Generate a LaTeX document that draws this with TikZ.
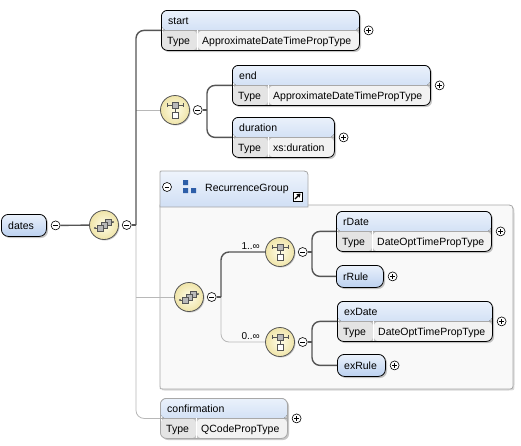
\documentclass[tikz,border=0pt]{standalone}
\usepackage{fontspec}
\setmainfont{Liberation Sans}
\usetikzlibrary{positioning,shadows,arrows.meta}

\definecolor{hdtop}{HTML}{EAF1FB}
\definecolor{hdbot}{HTML}{BCD1F0}
\definecolor{typecell}{HTML}{E4E4E4}
\definecolor{valcell}{HTML}{F2F2F2}
\definecolor{compin}{HTML}{FFFDE9}
\definecolor{compout}{HTML}{EFE4A8}
\definecolor{linedark}{HTML}{555555}
\definecolor{lineopt}{HTML}{B8B8B8}
\definecolor{groupbg}{HTML}{F9F9F9}
\definecolor{groupline}{HTML}{A8A8A8}
\definecolor{iconblue}{HTML}{2D5EA8}

\tikzset{
  lbl/.style={inner sep=0pt,font=\fontsize{10.5}{12}\selectfont},
  card/.style={inner sep=1pt,font=\fontsize{10}{12}\selectfont},
  mand/.style={draw=linedark,line width=1.4pt},
  opt/.style={draw=lineopt,line width=0.8pt},
  boxshadow/.style={drop shadow={shadow xshift=1.6pt,shadow yshift=-1.6pt,fill=black,opacity=0.22}},
  typedbox/.style={draw=black,line width=0.8pt,rounded corners=6pt,minimum height=40pt,
    inner sep=0pt,anchor=north west,boxshadow,
    path picture={
      \fill[top color=hdtop,bottom color=hdbot] (path picture bounding box.north west)
        rectangle ([yshift=20pt]path picture bounding box.south east);
      \fill[typecell] ([yshift=20pt]path picture bounding box.south west)
        rectangle ([xshift=36pt]path picture bounding box.south west);
      \fill[valcell] ([xshift=36pt,yshift=20pt]path picture bounding box.south west)
        rectangle (path picture bounding box.south east);
      \draw[groupline,line width=0.6pt] ([yshift=20pt]path picture bounding box.south west)
        -- ([yshift=20pt]path picture bounding box.south east);
      \draw[white,line width=0.8pt] ([xshift=36pt,yshift=20pt]path picture bounding box.south west)
        -- ([xshift=36pt]path picture bounding box.south west);
    }},
  simplebox/.style={draw=black,line width=0.8pt,rounded corners=7pt,minimum height=22pt,
    inner sep=0pt,anchor=north west,top color=hdtop,bottom color=hdbot,boxshadow},
  compositor/.style={circle,draw=linedark,line width=0.8pt,minimum size=29pt,inner sep=0pt,
    inner color=compin,outer color=compout,
    drop shadow={shadow xshift=1pt,shadow yshift=-1pt,fill=black,opacity=0.2}},
  toggle/.style={circle,draw=black,fill=white,line width=0.6pt,minimum size=9pt,inner sep=0pt},
  togminus/.style={toggle,path picture={
      \draw[line width=0.7pt] ([xshift=-2.3pt]path picture bounding box.center)
        -- ([xshift=2.3pt]path picture bounding box.center);}},
  togplus/.style={toggle,path picture={
      \draw[line width=0.7pt] ([xshift=-2.3pt]path picture bounding box.center)
        -- ([xshift=2.3pt]path picture bounding box.center);
      \draw[line width=0.7pt] ([yshift=-2.3pt]path picture bounding box.center)
        -- ([yshift=2.3pt]path picture bounding box.center);}},
  groupbox/.style={draw=groupline,line width=0.8pt,fill=groupbg,
    drop shadow={shadow xshift=1.5pt,shadow yshift=-1.5pt,fill=black,opacity=0.15}},
  grouptab/.style={draw=groupline,line width=0.8pt,top color=hdtop!80!white,bottom color=hdbot!70!white},
  iconline/.style={draw=linedark,line width=0.6pt}
}

% element with a Type row
\newcommand\typedelem[7][]{%
  \node[typedbox,minimum width=#5pt,#1] (#2) at (#3,#4) {};
  \node[lbl,anchor=base west] (#2-name) at ([xshift=7pt,yshift=-14pt]#2.north west) {#6};
  \node[lbl,anchor=base west] (#2-tlab) at ([xshift=6pt,yshift=6pt]#2.south west) {Type};
  \node[lbl,anchor=base west] (#2-type) at ([xshift=41pt,yshift=6pt]#2.south west) {#7};
}
% element without type
\newcommand\simpleelem[5]{%
  \node[simplebox,minimum width=#4pt] (#1) at (#2,#3) {};
  \node[lbl,anchor=base west] (#1-name) at ([xshift=7pt,yshift=-15pt]#1.north west) {#5};
}
% sequence icon
\newcommand\seqicon[1]{%
  \begin{scope}[shift={(#1.center)}]
    \draw[iconline] (-9,3) -- (-5,3) (5,-3) -- (9,-3);
    \fill[linedark] (-9,3) circle (1.1pt) (9,-3) circle (1.1pt);
    \foreach \d in {4,0,-4}
      \draw[iconline,fill=gray!55] ({\d-3},{-0.75*\d-3}) rectangle ({\d+3},{-0.75*\d+3});
  \end{scope}}
% choice icon
\newcommand\choiceicon[1]{%
  \begin{scope}[shift={(#1.center)}]
    \draw[iconline] (-8,-5) -- (8,-5) (0,-2) -- (0,2);
    \draw[iconline] (-8,-7) -- (-8,-3) (8,-7) -- (8,-3);
    \draw[iconline,fill=gray!55] (-3,-8) rectangle (3,-2);
    \draw[iconline,fill=white] (-3,2) rectangle (3,8);
  \end{scope}}

\begin{document}
\begin{tikzpicture}[x=1pt,y=-1pt]
  \useasboundingbox[fill=white] (0,0) rectangle (521,445);

  % RecurrenceGroup
  \draw[groupbox] (160,205) -- (505,205) .. controls (513,205) .. (513,213) -- (513,383)
    .. controls (513,389) .. (507,389) -- (163,389) .. controls (160,389) .. (160,386) -- cycle;
  \draw[grouptab] (160,207) -- (160,173) .. controls (160,171) .. (162,171) -- (300,171)
    .. controls (308,171) .. (308,179) -- (308,207) -- cycle;
  \node[togminus] (grp-m) at (167,187) {};
  \fill[iconblue] (183,180) rectangle (188,185) (183,188) rectangle (188,193) (191,188) rectangle (196,193);
  \node[lbl,anchor=base west] (grp-name) at (205,191) {RecurrenceGroup};
  \draw[fill=white,line width=0.8pt] (293,192) rectangle (302,201);
  \draw[line width=1.3pt,-{Triangle[length=3.5pt,width=4.5pt]}] (295,199) -- (300.5,193.5);

  % nodes
  \simpleelem{dates}{1}{214}{45}{dates}
  \node[togminus,right=4pt of dates] (dates-m) {};
  \node[compositor] (seq1) at (104,225) {};
  \seqicon{seq1}
  \node[togminus,right=3pt of seq1] (seq1-m) {};

  \typedelem{start}{161}{10}{198}{start}{ApproximateDateTimePropType}
  \node[togplus,right=4pt of start] (start-p) {};

  \node[compositor] (choice1) at (175,110) {};
  \choiceicon{choice1}
  \node[togminus,right=3pt of choice1] (choice1-m) {};
  \typedelem{end}{232}{65}{198}{end}{ApproximateDateTimePropType}
  \node[togplus,right=4pt of end] (end-p) {};
  \typedelem{duration}{232}{117}{102}{duration}{xs:duration}
  \node[togplus,right=4pt of duration] (duration-p) {};

  \node[compositor] (seq2) at (189,297) {};
  \seqicon{seq2}
  \node[togminus,right=3pt of seq2] (seq2-m) {};

  \node[compositor] (choice2) at (280,252) {};
  \choiceicon{choice2}
  \node[togminus,right=3pt of choice2] (choice2-m) {};
  \typedelem{rDate}{336}{211}{155}{rDate}{DateOptTimePropType}
  \node[togplus,right=4pt of rDate] (rDate-p) {};
  \simpleelem{rRule}{336}{265}{47}{rRule}
  \node[togplus,right=4pt of rRule] (rRule-p) {};

  \node[compositor] (choice3) at (280,342) {};
  \choiceicon{choice3}
  \node[togminus,right=3pt of choice3] (choice3-m) {};
  \typedelem{exDate}{337}{301}{155}{exDate}{DateOptTimePropType}
  \node[togplus,right=4pt of exDate] (exDate-p) {};
  \simpleelem{exRule}{337}{354}{48}{exRule}
  \node[togplus,right=4pt of exRule] (exRule-p) {};

  \typedelem[draw=groupline]{confirm}{160}{398}{127}{confirmation}{QCodePropType}
  \node[togplus,right=4pt of confirm] (confirm-p) {};

  \node[card,anchor=south east] (card1) at (261,251) {1..∞};
  \node[card,anchor=south east] (card2) at (261,341) {0..∞};

  % connectors
  \coordinate (spine) at (136,225);
  \coordinate (c1j) at (207,110);
  \coordinate (s2j) at (221,297);
  \coordinate (c2j) at (312,252);
  \coordinate (c3j) at (312,342);

  \draw[opt] (choice1.west -| spine) -- (choice1);
  \draw[opt] (seq2.west -| spine) -- (seq2);
  \draw[opt,rounded corners=8pt] (spine) |- (confirm.west);
  \draw[opt,rounded corners=8pt] (s2j) |- (choice3);

  \draw[mand] (dates-m) -- (seq1);
  \draw[mand] (seq1-m) -- (spine);
  \draw[mand,rounded corners=8pt] (spine) |- (start.west);
  \draw[mand] (choice1-m) -- (c1j);
  \draw[mand,rounded corners=8pt] (end.west) -| (c1j) |- (duration.west);
  \draw[mand] (seq2-m) -- (s2j);
  \draw[mand,rounded corners=8pt] (s2j) |- (choice2);
  \draw[mand] (choice2-m) -- (c2j);
  \draw[mand,rounded corners=8pt] (rDate.west) -| (c2j) |- (rRule.west);
  \draw[mand] (choice3-m) -- (c3j);
  \draw[mand,rounded corners=8pt] (exDate.west) -| (c3j) |- (exRule.west);
\end{tikzpicture}
\end{document}
